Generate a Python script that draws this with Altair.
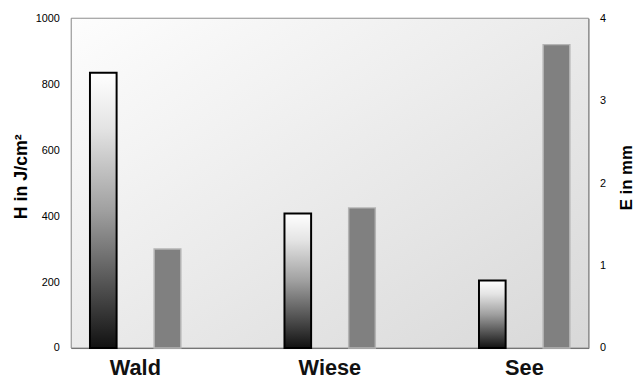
import altair as alt
import pandas as pd

categories = ["Wald", "Wiese", "See"]
h_values = [835, 408, 205]
e_values = [1.2, 1.7, 3.68]
h_ticks = [0, 200, 400, 600, 800, 1000]
e_ticks = [0, 1, 2, 3, 4]

df = pd.DataFrame({
    "cat": categories * 2,
    "series": ["H"] * 3 + ["E"] * 3,
    "value": h_values + e_values,
})

font = "Liberation Sans"
W, H = 524, 334

x_enc = alt.X("cat:N", sort=categories,
              scale=alt.Scale(paddingInner=0.5, paddingOuter=0.08),
              axis=alt.Axis(title=None, labelAngle=0, labelFontSize=22, labelFontWeight="bold",
                            labelFont=font, labelColor="#111", labelBaseline="alphabetic",
                            labelPadding=27, ticks=False, tickSize=0, domainColor="#555",
                            domainWidth=1))
xo_enc = alt.XOffset("series:N", sort=["H", "E"],
                     scale=alt.Scale(domain=["H", "E"], paddingInner=0.585, paddingOuter=0.05))

h_grad = alt.LinearGradient(
    gradient="linear",
    stops=[alt.GradientStop(color="#ffffff", offset=0),
           alt.GradientStop(color="#e4e4e4", offset=0.2),
           alt.GradientStop(color="#a0a0a0", offset=0.5),
           alt.GradientStop(color="#111111", offset=1)],
    x1=0, x2=0, y1=0, y2=1)

bg_grad = alt.LinearGradient(
    gradient="linear",
    stops=[alt.GradientStop(color="#fdfdfd", offset=0),
           alt.GradientStop(color="#d8d8d8", offset=1)],
    x1=0, x2=1, y1=0, y2=1)

bg_layer = alt.Chart(pd.DataFrame({"a": [0]})).mark_rect(fill=bg_grad, stroke="#8c8c8c", strokeWidth=1).encode(
    x=alt.value(0), x2=alt.value(W), y=alt.value(0), y2=alt.value(H)
)

h_layer = alt.Chart(df).transform_filter(alt.datum.series == "H").mark_bar(
    fill=h_grad, stroke="#000000", strokeWidth=2
).encode(
    x=x_enc,
    xOffset=xo_enc,
    y=alt.Y("value:Q", scale=alt.Scale(domain=[0, 1000], nice=False),
            axis=alt.Axis(orient="left", values=h_ticks, format="d", grid=False, ticks=False,
                          tickSize=0, labelPadding=12, labelFontSize=11, labelFont=font,
                          labelColor="#000", domainColor="#555", title="H in J/cm²",
                          titleFont=font, titleFontSize=18, titleFontWeight="bold",
                          titleColor="#000", titleAngle=270, titleX=-45, titleY=160,
                          titleAlign="center", titleBaseline="alphabetic")),
)

e_layer = alt.Chart(df).transform_filter(alt.datum.series == "E").mark_bar(
    fill="#808080", stroke="#b4b4b4", strokeWidth=1.5
).encode(
    x=x_enc,
    xOffset=xo_enc,
    y=alt.Y("value:Q", scale=alt.Scale(domain=[0, 4], nice=False),
            axis=alt.Axis(orient="right", values=e_ticks, format="d", grid=False, ticks=False,
                          tickSize=0, labelPadding=11, labelFontSize=11, labelFont=font,
                          labelColor="#000", domainColor="#888", title="E in mm",
                          titleFont=font, titleFontSize=17, titleFontWeight="bold",
                          titleColor="#000", titleAngle=270, titleX=43, titleY=161,
                          titleAlign="center", titleBaseline="alphabetic")),
)

chart = alt.layer(bg_layer, h_layer, e_layer).resolve_scale(y="independent").properties(
    width=W, height=H,
    padding={"left": 64, "top": 8, "right": 47, "bottom": 31},
    autosize=alt.AutoSizeParams(type="none"),
    background="#ffffff",
).configure_view(
    stroke=None
)

chart.save("out.html", embed_options={"renderer": "svg", "actions": False})
